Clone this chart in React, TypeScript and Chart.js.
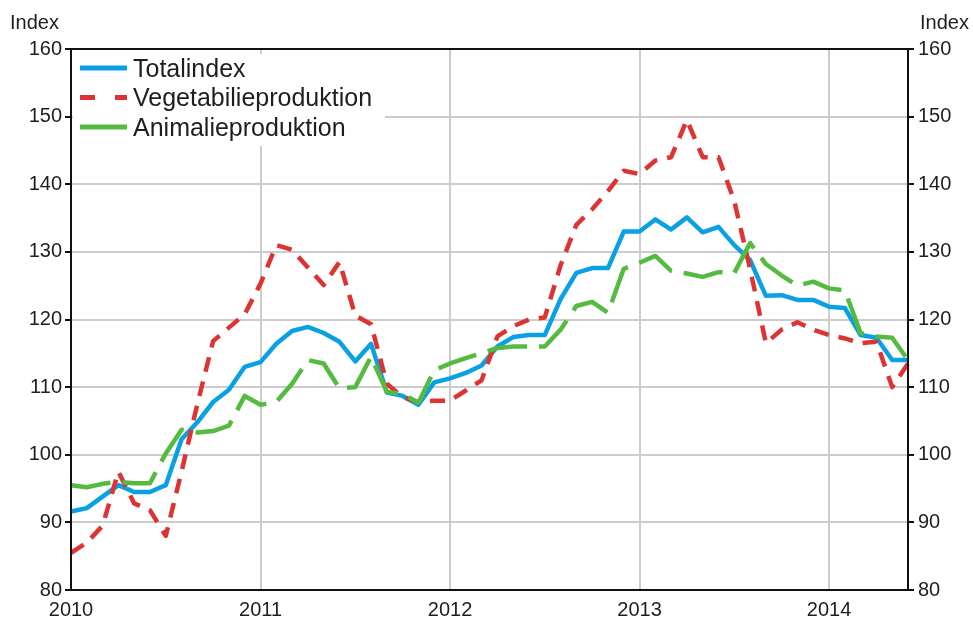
import React, { useEffect, useRef } from 'react';
import { Chart, registerables } from 'chart.js';

Chart.register(...registerables);

// ---- Data ----
const years = ['2010', '2011', '2012', '2013', '2014'];
const monthsInLastYear = 6;
const categories: string[] = [];
years.forEach((y, i) => {
  const n = i === years.length - 1 ? monthsInLastYear : 12;
  for (let m = 1; m <= n; m++) categories.push(`${y}-${String(m).padStart(2, '0')}`);
});

const totalindex = [
  91.6, 92.1, 93.8, 95.5, 94.5, 94.5, 95.5, 102.3, 104.8, 107.8, 109.6, 113.0,
  113.7, 116.4, 118.3, 118.9, 118.0, 116.7, 113.8, 116.4, 109.2, 108.7, 107.4, 110.7,
  111.3, 112.1, 113.2, 116.0, 117.4, 117.7, 117.7, 123.0, 126.9, 127.6, 127.6, 133.0,
  133.0, 134.8, 133.3, 135.1, 132.9, 133.7, 131.0, 128.8, 123.5, 123.6, 122.9, 122.9,
  121.9, 121.7, 117.7, 117.3, 114.0, 114.0,
];
const vegetabilieproduktion = [
  85.5, 87.0, 89.5, 97.5, 92.8, 91.8, 88.0, 97.5, 107.5, 116.8, 118.8, 120.8,
  125.3, 131.0, 130.3, 127.7, 125.1, 128.5, 120.6, 119.3, 110.5, 108.5, 107.8, 108.0,
  108.0, 109.5, 111.0, 117.5, 119.0, 120.0, 120.3, 128.0, 134.0, 136.3, 139.0, 142.0,
  141.5, 143.5, 144.0, 149.5, 144.0, 144.0, 137.5, 127.5, 116.5, 118.5, 119.6, 118.5,
  117.7, 117.2, 116.5, 116.7, 110.0, 113.5,
];
const animalieproduktion = [
  95.5, 95.2, 95.7, 96.0, 95.8, 95.8, 100.2, 103.7, 103.3, 103.5, 104.3, 108.7,
  107.4, 107.8, 110.5, 114.0, 113.5, 109.8, 110.0, 114.5, 109.3, 109.0, 107.7, 112.5,
  113.5, 114.3, 115.0, 115.8, 116.0, 116.0, 116.0, 118.5, 122.0, 122.6, 121.0, 127.5,
  128.4, 129.4, 127.2, 126.8, 126.3, 127.0, 126.9, 131.3, 128.2, 126.5, 125.0, 125.6,
  124.6, 124.3, 118.0, 117.5, 117.3, 114.0,
];
const yMin = 80;
const yMax = 160;
const yStep = 10;
const seriesNames = ['Totalindex', 'Vegetabilieproduktion', 'Animalieproduktion'];
const axisTitle = 'Index';

const colors = ['#0aa0e4', '#dd3333', '#55bb40'];
const dashes: number[][] = [[], [15, 10], [40, 12]];
const legendDashes: number[][] = [[], [15, 20], []];

const FONT = '"Liberation Sans", Arial, sans-serif';
const TEXT = '#1e1e1e';

const overlayPlugin = {
  id: 'overlay',
  afterDraw(chart: any) {
    const { ctx, chartArea: a } = chart;
    ctx.save();
    // frame
    ctx.setLineDash([]);
    ctx.strokeStyle = '#111';
    ctx.lineWidth = 2;
    ctx.strokeRect(a.left, a.top, a.right - a.left, a.bottom - a.top);
    // axis titles
    ctx.font = `20px ${FONT}`;
    ctx.fillStyle = TEXT;
    ctx.textBaseline = 'middle';
    ctx.textAlign = 'left';
    ctx.fillText(axisTitle, 10, 23);
    ctx.fillText(axisTitle, 920, 23);
    // legend box
    ctx.fillStyle = '#ffffff';
    ctx.fillRect(a.left + 2, a.top + 5, 312, 92);
    ctx.font = `25px ${FONT}`;
    seriesNames.forEach((name, i) => {
      const y = a.top + 19 + i * 29.5;
      ctx.strokeStyle = colors[i];
      ctx.lineWidth = 5;
      ctx.setLineDash(legendDashes[i]);
      ctx.beginPath();
      ctx.moveTo(a.left + 9, y);
      ctx.lineTo(a.left + 56, y);
      ctx.stroke();
      ctx.fillStyle = TEXT;
      ctx.fillText(name, a.left + 62, y + 2);
    });
    ctx.restore();
  },
};

export default function App() {
  const ref = useRef<HTMLCanvasElement>(null);
  useEffect(() => {
    if (!ref.current) return;
    const series = [totalindex, vegetabilieproduktion, animalieproduktion];
    const chart = new Chart(ref.current, {
      type: 'line',
      data: {
        labels: categories,
        datasets: series.map((d, i) => ({
          label: seriesNames[i],
          data: d,
          borderColor: colors[i],
          backgroundColor: colors[i],
          borderWidth: 4.5,
          borderDash: dashes[i],
          borderCapStyle: 'butt',
          borderJoinStyle: 'round',
          pointRadius: 0,
          tension: 0,
          fill: false,
          order: 3 - i,
          yAxisID: 'y',
        })) as any,
      },
      options: {
        animation: false,
        responsive: true,
        maintainAspectRatio: false,
        layout: { padding: { top: 49, left: 0, right: 0, bottom: 0 } },
        plugins: { legend: { display: false }, tooltip: { enabled: false } },
        scales: {
          x: {
            type: 'category',
            offset: false,
            afterFit: (s: any) => { s.height = 29; },
            border: { display: false },
            grid: {
              drawTicks: false,
              lineWidth: 2,
              color: (c: any) => (c.index % 12 === 0 ? '#cccccc' : 'rgba(0,0,0,0)'),
            },
            ticks: {
              autoSkip: false,
              maxRotation: 0,
              padding: 8,
              color: TEXT,
              font: { family: FONT, size: 20 },
              callback: (_v: any, i: number) => (i % 12 === 0 ? categories[i].slice(0, 4) : ''),
            },
          },
          y: {
            position: 'left',
            min: yMin,
            max: yMax,
            afterFit: (s: any) => { s.width = 71; },
            border: { display: false },
            grid: { color: '#cccccc', lineWidth: 2, tickColor: '#111', tickLength: 6, drawTicks: true },
            ticks: { stepSize: yStep, padding: 3, color: TEXT, font: { family: FONT, size: 20 } },
          },
          y2: {
            position: 'right',
            min: yMin,
            max: yMax,
            afterFit: (s: any) => { s.width = 65; },
            border: { display: false },
            grid: { drawOnChartArea: false, tickColor: '#111', tickLength: 6, lineWidth: 2 },
            ticks: { stepSize: yStep, padding: 4, color: TEXT, font: { family: FONT, size: 20 } },
          },
        },
      },
      plugins: [overlayPlugin],
    });
    return () => chart.destroy();
  }, []);
  return (
    <div style={{ position: 'fixed', left: 0, top: 0, width: 973, height: 619, background: '#fff' }}>
      <canvas ref={ref} />
    </div>
  );
}
